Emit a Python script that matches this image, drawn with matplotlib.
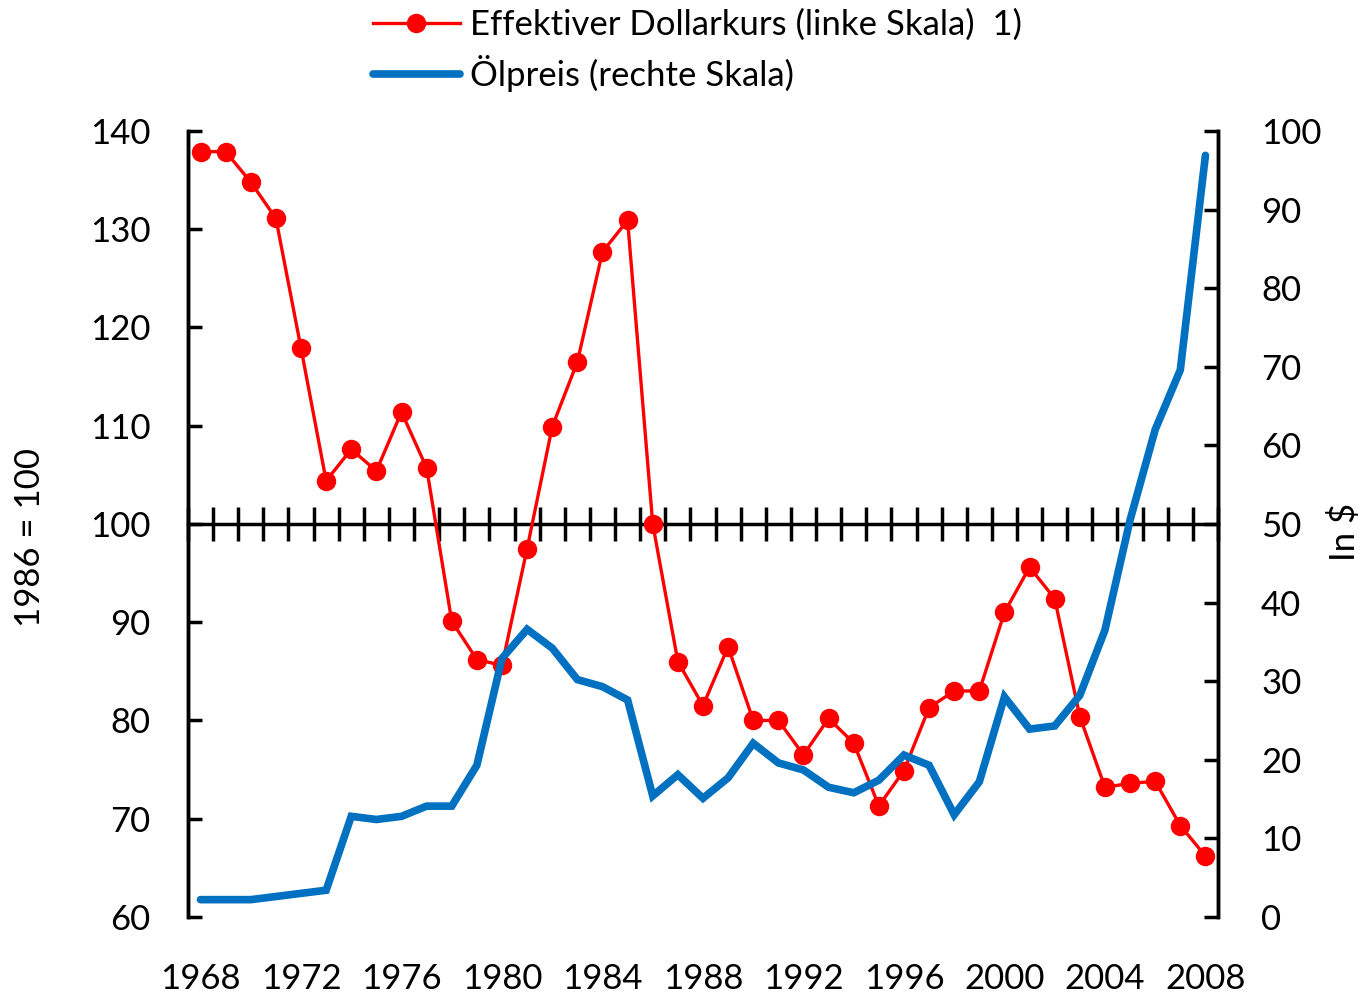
import matplotlib
matplotlib.use("Agg")
import matplotlib.pyplot as plt
import numpy as np
from matplotlib.ticker import MultipleLocator, FixedLocator

years = list(range(1968, 2009))
dollar_index = [137.9, 137.9, 134.8, 131.1, 117.9, 104.4, 107.6, 105.4, 111.4, 105.7,
                90.1, 86.2, 85.6, 97.5, 109.9, 116.5, 127.7, 130.9, 100.0, 86.0,
                81.5, 87.5, 80.0, 80.0, 76.5, 80.2, 77.7, 71.3, 74.9, 81.3,
                83.0, 83.0, 91.0, 95.6, 92.4, 80.4, 73.2, 73.6, 73.8, 69.3, 66.2]
oil_price = [2.2, 2.2, 2.2, 2.6, 3.0, 3.4, 12.8, 12.4, 12.8, 14.1,
             14.1, 19.3, 32.9, 36.6, 34.2, 30.2, 29.3, 27.6, 15.4, 18.1,
             15.1, 17.7, 22.1, 19.6, 18.7, 16.5, 15.8, 17.4, 20.6, 19.3,
             13.0, 17.2, 28.0, 23.9, 24.3, 28.2, 36.5, 50.5, 62.0, 69.6, 96.9]
label_years = list(range(1968, 2009, 4))

plt.rcParams['font.family'] = ['Lato', 'DejaVu Sans']
FS = 25

fig = plt.figure(figsize=(13.65, 9.97), dpi=100)
ax = fig.add_axes([0.1377, 0.0803, 0.7546, 0.7883])
ax2 = ax.twinx()

red, = ax.plot(years, dollar_index, color='#FF0000', lw=2.4, marker='o',
               markersize=14, markeredgewidth=0, zorder=3,
               label='Effektiver Dollarkurs (linke Skala)  1)')
blue, = ax2.plot(years, oil_price, color='#0070C0', lw=5.5, solid_capstyle='round',
                 solid_joinstyle='miter', label='Ölpreis (rechte Skala)')

ax.set_xlim(1967.5, 2008.5)
ax.set_ylim(60, 140)
ax2.set_ylim(0, 100)

# spines
for a in (ax, ax2):
    a.spines['top'].set_visible(False)
for s in ('left', 'right'):
    ax.spines[s].set_linewidth(2.5)
    ax2.spines[s].set_linewidth(2.5)
ax2.spines['bottom'].set_visible(False)
ax.spines['bottom'].set_position(('data', 100))
ax.spines['bottom'].set_linewidth(2.5)
ax.spines['bottom'].set_zorder(2)

# x ticks on middle line (half-year boundaries), crossing
ax.xaxis.set_major_locator(FixedLocator(np.arange(1967.5, 2009.0, 1.0)))
ax.tick_params(axis='x', which='major', direction='inout', length=24, width=2.5,
               labelbottom=False)

# bottom year labels
sec = ax.secondary_xaxis(0.0)
sec.spines['bottom'].set_visible(False)
sec.set_xticks(label_years)
sec.tick_params(axis='x', length=0, pad=33, labelsize=FS)

ax.yaxis.set_major_locator(MultipleLocator(10))
ax.tick_params(axis='y', direction='in', length=10, width=2.5, labelsize=FS, pad=27)
ax2.yaxis.set_major_locator(MultipleLocator(10))
ax2.tick_params(axis='y', direction='in', length=10, width=2.5, labelsize=FS, pad=31)

ax.set_ylabel('1986 = 100', fontsize=FS, va='center')
ax.yaxis.set_label_coords(-0.153, 0.483)
ax2.set_ylabel('In $', fontsize=FS, rotation=90, va='center')
ax2.yaxis.set_label_coords(1.123, 0.49)

leg = fig.legend(handles=[red, blue], loc='upper left', bbox_to_anchor=(0.263, 1.005),
                 frameon=False, fontsize=FS, handlelength=2.5, handletextpad=0.3,
                 labelspacing=0.4, borderaxespad=0)

fig.savefig('out.png', dpi=100)
